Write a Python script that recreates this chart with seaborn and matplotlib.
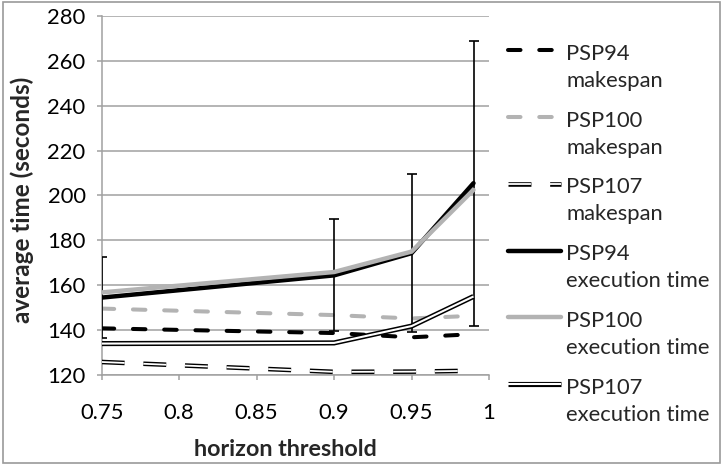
import numpy as np
import pandas as pd
import matplotlib.pyplot as plt
import seaborn as sns
from matplotlib.lines import Line2D
from matplotlib.patches import Rectangle

# values
thresholds = [0.75, 0.9, 0.95, 0.99]
psp94_makespan = [140.8, 138.7, 136.8, 138.2]
psp100_makespan = [149.6, 146.7, 145.2, 146.4]
psp107_makespan = [125.8, 121.4, 121.5, 121.9]
psp94_exec = [154.5, 164.4, 174.3, 205.5]
psp100_exec = [156.8, 165.9, 175.0, 202.5]
psp107_exec = [134.0, 134.3, 141.8, 155.0]
psp94_exec_err = [18.0, 25.0, 35.3, 63.5]

series_names = [
    "PSP94\nmakespan",
    "PSP100\nmakespan",
    "PSP107\nmakespan",
    "PSP94\nexecution time",
    "PSP100\nexecution time",
    "PSP107\nexecution time",
]
series_values = [psp94_makespan, psp100_makespan, psp107_makespan,
                 psp94_exec, psp100_exec, psp107_exec]

x_ticks = [0.75, 0.8, 0.85, 0.9, 0.95, 1.0]
x_tick_labels = ["0.75", "0.8", "0.85", "0.9", "0.95", "1"]
y_ticks = [120, 140, 160, 180, 200, 220, 240, 260, 280]

sns.set_style("white")
plt.rcParams["font.family"] = ["Lato", "DejaVu Sans"]
plt.rcParams["lines.scale_dashes"] = False

LINE_GREY = "#B3B3B3"
AXIS_GREY = "#A0A0A0"
FS = 15.8
XLABEL_FS = 16.8
YLABEL_FS = 17.5

# each series is drawn as one or more stacked layers: (colour, width, dashes, capstyle)
short_dash = (9, 13.5)
long_dash = (16.5, 13.5)
series_layers = [
    [("black", 2.9, short_dash, "round")],
    [(LINE_GREY, 2.9, short_dash, "round")],
    [("black", 3.3, long_dash, "butt"), ("white", 1.3, long_dash, "butt")],
    [("black", 3.2, None, "round")],
    [(LINE_GREY, 3.2, None, "round")],
    [("black", 3.7, None, "butt"), ("white", 1.5, None, "butt")],
]


def style_line(line, color, lw, dashes, cap):
    line.set_color(color)
    line.set_linewidth(lw)
    line.set_solid_joinstyle("miter")
    line.set_solid_capstyle(cap)
    if dashes is not None:
        line.set_dashes(dashes)
        line.set_dash_capstyle(cap)


W, H = 722, 465
fig = plt.figure(figsize=(W / 100, H / 100), dpi=100)
ax = fig.add_axes([101.7 / W, 1 - 375 / H, (489 - 101.7) / W, (375 - 16) / H])

df = pd.DataFrame({"threshold": thresholds})
z = 3
for i, (values, layers) in enumerate(zip(series_values, series_layers)):
    df["value"] = values
    if i == 3:
        ax.errorbar(thresholds, psp94_exec, yerr=psp94_exec_err, fmt="none",
                    ecolor="black", elinewidth=1.2, capsize=3.6, capthick=1.2,
                    zorder=z)
        z += 1
    for color, lw, dashes, cap in layers:
        sns.lineplot(data=df, x="threshold", y="value", ax=ax, legend=False)
        line = ax.lines[-1]
        style_line(line, color, lw, dashes, cap)
        line.set_zorder(z)
        z += 1

ax.set_xlim(0.75, 1.0)
ax.set_ylim(120, 280)
ax.set_xticks(x_ticks)
ax.set_xticklabels(x_tick_labels)
ax.set_yticks(y_ticks)

ax.grid(axis="y", color=AXIS_GREY, lw=1.1)
ax.grid(axis="x", visible=False)
ax.set_axisbelow(True)
for side in ["top", "right"]:
    ax.spines[side].set_visible(False)
for side in ["left", "bottom"]:
    ax.spines[side].set_color(AXIS_GREY)
    ax.spines[side].set_linewidth(1.1)
    ax.spines[side].set_zorder(2)

ax.tick_params(axis="both", color=AXIS_GREY, length=3.6, width=1.1,
               labelsize=FS, labelcolor="black")
ax.tick_params(axis="x", pad=16.5, direction="out", bottom=True)
ax.tick_params(axis="y", pad=8, direction="out", left=True)

ax.set_xlabel("horizon threshold", fontsize=XLABEL_FS, fontweight="bold")
ax.set_ylabel("average time (seconds)", fontsize=YLABEL_FS, fontweight="bold")
ax.xaxis.set_label_coords((285.7 - 101.7) / (489 - 101.7), -(439 - 375) / (375 - 16))
ax.yaxis.set_label_coords(-(101.7 - 34) / (489 - 101.7), 0.5 - 4 / 359)

# legend drawn to the right, handle level with the first line of each label
for i, (name, layers) in enumerate(zip(series_names, series_layers)):
    base = 60 + i * 66.7
    hy = 1 - (base - 9.5) / H
    for color, lw, dashes, cap in layers:
        h = Line2D([508 / W, 561 / W], [hy, hy], transform=fig.transFigure)
        style_line(h, color, lw, dashes, cap)
        fig.add_artist(h)
    first, second = name.split("\n")
    fig.text(566 / W, 1 - base / H, first, fontsize=FS, va="baseline", ha="left")
    fig.text(566 / W, 1 - (base + 27) / H, second, fontsize=FS, va="baseline", ha="left")

fig.add_artist(Rectangle((2.5 / W, 2.5 / H), (W - 5) / W, (H - 5) / H,
                         transform=fig.transFigure, fill=False,
                         edgecolor="#9A9A9A", lw=1.2))

fig.savefig("out.png", dpi=100)
